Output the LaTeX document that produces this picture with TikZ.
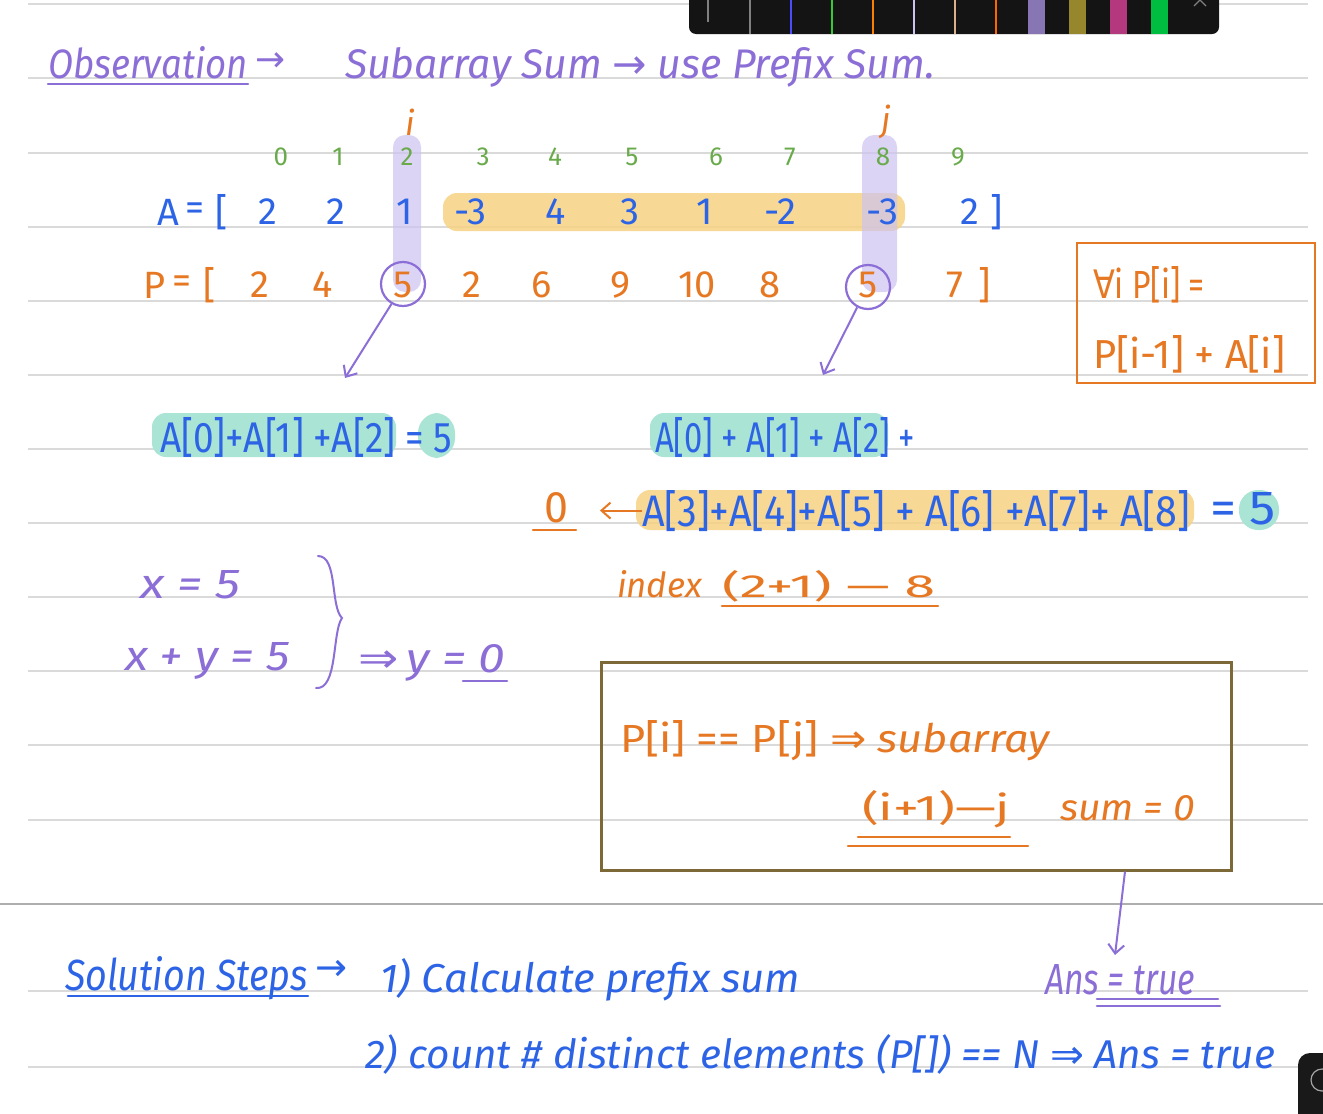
\documentclass[tikz,border=0pt]{standalone}
\usepackage{fontspec}
\usepackage{graphicx}
\setmainfont{Fira Sans}
\newfontfamily\symf{DejaVu Sans}
\usetikzlibrary{arrows.meta}
\definecolor{purp}{RGB}{140,110,215}
\definecolor{blu}{RGB}{45,100,230}
\definecolor{grn}{RGB}{105,170,75}
\definecolor{org}{RGB}{230,120,35}
\definecolor{hlY}{RGB}{246,210,130}
\definecolor{hlG}{RGB}{170,228,212}
\definecolor{lav}{RGB}{205,195,242}
\definecolor{olive}{RGB}{125,105,55}
\definecolor{rulec}{RGB}{218,218,218}
\newcommand\fw[2]{\resizebox{#1pt}{!}{#2}}
\newcommand\fh[3]{\resizebox{#1pt}{#2pt}{#3}}
\tikzset{
  rule/.style={draw=rulec,line width=1.3pt},
  txt/.style={inner sep=0pt,outer sep=0pt},
  pu/.style={txt,text=purp},
  bl/.style={txt,text=blu},
  gr/.style={txt,text=grn,font=\fontsize{26}{26}\selectfont},
  og/.style={txt,text=org},
  big/.style={font=\fontsize{38}{38}\selectfont},
  mid/.style={font=\fontsize{32}{32}\selectfont},
  cur/.style={font=\itshape\fontsize{30}{30}\selectfont},
  barb/.style={-{Straight Barb[length=9pt,width=16pt]},line width=2pt},
  uline/.style={line width=2.6pt,line cap=round},
  hl/.style={rounded corners=14pt},
  ring/.style={draw=purp,circle,line width=2.2pt,minimum size=44pt,inner sep=0pt}
}
\begin{document}
\begin{tikzpicture}[x=1pt,y=-1pt]
\useasboundingbox (0,0) rectangle (1323,1114);
\fill[white] (0,0) rectangle (1323,1114);
% ruled lines
\foreach \yy in {4,78,153,227,301,375,449,523,597,671,745,820,991,1067}
  \draw[rule] (28,\yy) -- (1308,\yy);
\draw[draw=rulec!80!black,line width=1.4pt] (0,904) -- (1323,904);
% toolbar
\fill[black!92,rounded corners=7pt] (689,-12) rectangle (1219,34);
\draw[gray,line width=2pt] (708,0) -- (708,22);
\foreach \xx/\cc in {750/gray,791/blue!70,832/green!60!gray,873/orange,914/lav,955/brown!60!white,996/orange!80!red}
  \draw[\cc,line width=1.6pt] (\xx,0) -- (\xx,34);
\foreach \xx/\cc in {1028/purp!60!gray,1069/olive!80!yellow,1110/magenta!70!black,1151/green!50!teal}
  \fill[\cc] (\xx,0) rectangle (\xx+17,34);
\draw[gray,line width=1.2pt] (1194,6) -- (1200,0) -- (1206,6);
% bottom-right widget
\fill[black!90,rounded corners=12pt] (1298,1053) rectangle (1345,1135);
\draw[gray!70,line width=1.2pt] (1322,1080) circle (11);
% title line
\node[pu,cur,anchor=base west] (obs) at (48,78) {\fh{200}{32}{Observation}};
\node[pu,anchor=west] (obsar) at (255,62) {\fw{30}{\symf →}};
\draw[purp,uline] (obs.base west) ++(0,6) -- ([yshift=-6pt]obs.base east);
\node[pu,cur,anchor=base west] (sub) at (345,78) {\fh{590}{31}{Subarray Sum {\upshape\symf →} use Prefix Sum.}};
% highlights
\fill[hlY,hl,opacity=0.85] (443,193) rectangle (905,231);
\fill[lav,rounded corners=12pt,opacity=0.7] (393,135) rectangle (421,292);
\fill[lav,rounded corners=12pt,opacity=0.7] (862,135) rectangle (897,292);
% i j
\node[og,cur] (ii) at (410,122) {\fontsize{34}{34}\selectfont i};
\node[og,cur] (jj) at (886,122) {\fontsize{34}{34}\selectfont j};
% index row
\foreach \xx/\v [count=\k] in {281/0,338/1,407/2,483/3,555/4,632/5,716/6,790/7,883/8,958/9}
  \node[gr] (ix\k) at (\xx,157) {\v};
% A row
\node[bl,big] (Alab) at (168,212) {A};
\node[bl,big] (Aeq) at (195,212) {=};
\node[bl,big] (Alb) at (222,212) {[};
\foreach \xx/\v [count=\k] in {268/2,336/2,405/1,470/-3,556/4,630/3,705/1,780/-2,882/-3,970/2}
  \node[bl,big] (a\k) at (\xx,212) {\v};
\node[bl,big] (Arb) at (997,212) {]};
% P row
\node[og,big] (Plab) at (155,285) {P};
\node[og,big] (Peq) at (182,285) {=};
\node[og,big] (Plb) at (210,285) {[};
\foreach \xx/\v [count=\k] in {260/2,323/4,403/5,472/2,542/6,620/9,697/10,770/8,868/5,955/7}
  \node[og,big] (p\k) at (\xx,285) {\v};
\node[og,big] (Prb) at (985,285) {]};
\node[ring] (c1) at (403,284) {};
\node[ring] (c2) at (868,287) {};
\coordinate (t1) at (345,378);
\coordinate (t2) at (823,375);
\draw[barb,purp] (c1.-120) -- (t1);
\draw[barb,purp] (c2.-118) -- (t2);
% formula box
\node[draw=org,line width=2.6pt,minimum width=238pt,minimum height=140pt] (fbox) at (1196,313) {};
\node[og,mid,anchor=base west] (f1) at (1093,298) {\fh{112}{32}{{\symf ∀}i P[i] =}};
\node[og,mid,anchor=base west] (f2) at (1093,368) {\fh{192}{33}{P[i-1] + A[i]}};
% sums
\fill[hlG,hl] (152,413) rectangle (396,457);
\fill[hlG,rounded corners=20pt] (418,413) rectangle (455,458);
\node[bl,mid,anchor=base west] (s1) at (160,452) {\fh{292}{35}{A[0]+A[1] +A[2] = 5}};
\fill[hlG,hl] (650,413) rectangle (888,457);
\node[bl,mid,anchor=base west] (s2) at (655,452) {\fh{260}{35}{A[0] + A[1] + A[2] +}};
\fill[hlY,hl,opacity=0.85] (636,490) rectangle (1194,530);
\fill[hlG,rounded corners=19pt] (1239,490) rectangle (1279,530);
\node[og,mid,anchor=base] (zero) at (556,522) {\fh{24}{30}{0}};
\draw[org,uline] (533,530) -- (576,530);
\node[bl,mid,anchor=base west] (s3) at (642,526) {\fh{548}{36}{A[3]+A[4]+A[5] + A[6] +A[7]+ A[8]}};
\draw[barb,org,line width=2pt] (s3.west) -- ([xshift=-42pt]s3.west);
\node[bl,mid,anchor=base west] (s4) at (1210,524) {\fh{66}{32}{= 5}};
% x y
\node[pu,mid,anchor=base west] (x1) at (140,598) {\fh{100}{28}{\itshape x = 5}};
\node[pu,mid,anchor=base west] (x2) at (125,670) {\fh{165}{28}{\itshape x + y = 5}};
\draw[purp,line width=2pt,line cap=round] (318,556) .. controls (338,556) and (330,606) .. (342,618) .. controls (332,632) and (338,690) .. (316,688);
\node[pu,mid,anchor=base west] (y0) at (358,672) {\fh{147}{28}{{\symf ⇒}\,\itshape y = 0}};
\draw[purp,uline] (463,681) -- (507,681);
% index note
\node[og,cur,anchor=base west] (idx) at (617,597) {\fh{85}{27}{index}};
\node[og,mid,anchor=base west] (idr) at (722,597) {\fh{213}{27}{(2+1) — 8}};
\draw[org,uline] (722,606) -- (938,606);
% big box
\node[draw=olive,line width=3pt,minimum width=630pt,minimum height=208pt] (bigbox) at (916,766) {};
\node[og,mid,anchor=base west] (b1) at (620,752) {\fh{430}{32}{P[i] == P[j] {\symf ⇒} \itshape subarray}};
\node[og,mid,anchor=base west] (b2) at (862,820) {\fh{148}{30}{(i+1)—j}};
\node[og,mid,anchor=base west] (b3) at (1060,820) {\fh{135}{25}{\itshape sum = 0}};
\draw[org,uline] (858,837) -- (1010,837);
\draw[org,uline] (848,846) -- (1028,846);
% answer
\coordinate (anstip) at (1115,955);
\draw[barb,purp] ([xshift=209pt]bigbox.south) -- (anstip);
\node[pu,cur,anchor=base west] (ans) at (1045,994) {\fh{150}{30}{Ans = true}};
\draw[purp,uline] (1097,999) -- (1218,999);
\draw[purp,uline] (1097,1006) -- (1220,1006);
% solution steps
\node[bl,cur,anchor=base west] (sol) at (65,990) {\fh{243}{34}{Solution Steps}};
\draw[blu,uline] (68,996) -- (308,996);
\node[bl,anchor=west] (solar) at (315,970) {\fw{32}{\symf →}};
\node[bl,cur,anchor=base west] (st1) at (380,992) {\fh{420}{34}{1) Calculate prefix sum}};
\node[bl,cur,anchor=base west] (st2) at (365,1068) {\fh{910}{34}{2) count \# distinct elements (P[]) == N {\upshape\symf ⇒} Ans = true}};
\end{tikzpicture}
\end{document}
